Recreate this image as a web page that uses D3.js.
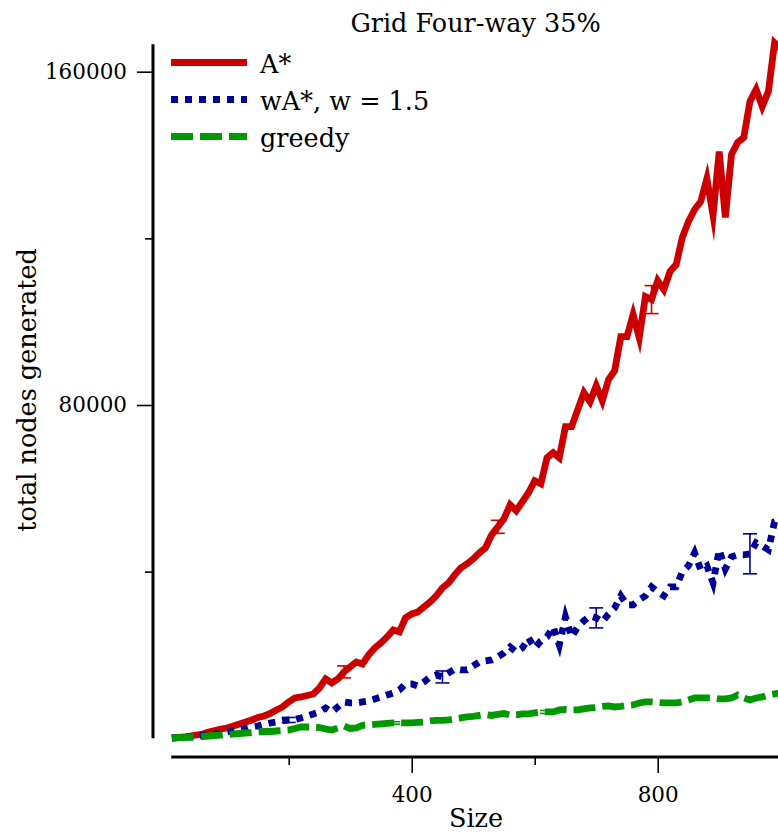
<!DOCTYPE html>
<html>
<head>
<meta charset="utf-8">
<script src="https://cdn.jsdelivr.net/npm/d3@7"></script>
<style>
  html, body { margin: 0; padding: 0; background: #fff; }
  svg { display: block; font-family: "DejaVu Serif", serif; }
</style>
</head>
<body>
<svg id="chart" width="778" height="833"></svg>
<script>
// Problem sizes (x axis)
const sizes = [10,20,30,40,50,60,70,80,90,100,110,120,130,140,150,160,170,180,190,200,
  210,220,230,240,250,260,270,280,290,300,310,320,330,340,350,360,370,380,390,400,
  410,420,430,440,450,460,470,480,490,500,510,520,530,540,550,560,570,580,590,600,
  610,620,630,640,650,660,670,680,690,700,710,720,730,740,750,760,770,780,790,800,
  810,820,830,840,850,860,870,880,890,900,910,920,930,940,950,960,970,980,990,1000];

// Mean total nodes generated per size
const aStar = [70,190,310,550,790,1030,1510,1870,2230,2470,2950,3440,3920,4400,5000,5360,5960,6800,7520,8720,
  9680,9920,10280,10640,12080,14250,13290,14250,15930,17130,18330,17850,20010,21690,22890,24340,26020,25540,28900,29860,
  30340,31540,32750,34190,36110,37310,39230,40910,41870,43070,44520,45720,48840,50760,52680,56050,54610,56770,58930,61810,
  61090,67340,68540,67340,74790,74790,78870,82950,80790,84640,81030,86080,88240,96410,96410,101690,96170,106020,105300,109860,
  107700,112020,113710,120190,124040,126920,128840,134370,125480,140850,125000,140130,143020,144210,152870,155750,151660,155270,166900,165500];

const wAstar = [70,190,310,310,430,670,790,1030,1150,1510,1750,1990,2350,2710,2950,3320,3680,3920,4160,4400,
  4520,4880,5360,5840,6320,7280,6320,7520,8720,8480,8480,8720,8960,9440,9920,10400,10880,11600,13040,13040,
  12560,13530,14730,15210,14730,15690,16650,16410,16410,17370,18330,18570,18810,19530,20490,21930,20730,21690,24090,21690,
  23370,24340,26740,22410,29140,24340,26740,28180,29380,28900,27940,29860,31300,34190,32030,32030,33230,34190,36350,35150,
  34190,36350,36350,39950,41390,44520,40430,41390,37310,45240,40670,43550,44040,44040,44280,46920,46200,45240,51960,52440];

const greedy = [70,190,190,310,310,430,550,670,790,910,1030,1150,1270,1390,1510,1630,1630,1750,1870,1990,
  2350,2710,2710,2710,2590,2230,1990,2470,2950,2350,2470,3080,3200,3320,3440,3560,3680,3680,3680,3680,
  3800,3920,4160,4280,4280,4400,4640,4880,5120,5240,5480,5720,5480,5720,5960,5600,5600,5840,5840,6080,
  6320,6320,6320,6800,6920,6800,6800,7040,7280,7400,7640,7760,7520,7640,7880,8000,8480,8720,8720,8600,
  8480,8480,8480,8720,9200,9680,9680,9680,9680,9440,9440,9680,10400,9680,9200,9680,9920,10400,10640,10880];

// Error bars: sizes and half-widths
const aStarErrSizes = [290, 540, 790];
const aStarErrHalf = [1440, 1560, 3360];
const wAstarErrSizes = [200, 450, 700, 950];
const wAstarErrHalf = [600, 1440, 2400, 4800];
const greedyErrSizes = [120, 370, 620, 870];
const greedyErrHalf = [240, 300, 360, 360];

// Axis ticks
const xMajorTicks = [400, 800];
const xMinorTicks = [200, 600, 1000];
const yMajorTicks = [80000, 160000];
const yMinorTicks = [40000, 120000];

const seriesNames = ["A*", "wA*, w = 1.5", "greedy"];
const titleText = "Grid Four-way 35%";
const xLabel = "Size";
const yLabel = "total nodes generated";

const svg = d3.select("#chart");

const x = d3.scaleLinear().domain([0, 1000]).range([165.7, 780.7]);
const y = d3.scaleLinear().domain([0, 160000]).range([738.3, 71.7]);

const series = [
  { name: seriesNames[0], values: aStar, color: "#cc0000", dash: null,
    errS: aStarErrSizes, errH: aStarErrHalf },
  { name: seriesNames[1], values: wAstar, color: "#000099", dash: "7 7",
    errS: wAstarErrSizes, errH: wAstarErrHalf },
  { name: seriesNames[2], values: greedy, color: "#009900", dash: "22 7",
    errS: greedyErrSizes, errH: greedyErrHalf }
];

// Axis spines
svg.append("line")
  .attr("x1", 153).attr("x2", 153)
  .attr("y1", y(0)).attr("y2", y(166600))
  .attr("stroke", "#000").attr("stroke-width", 3);
svg.append("line")
  .attr("x1", x(9)).attr("x2", x(1010))
  .attr("y1", 757).attr("y2", 757)
  .attr("stroke", "#000").attr("stroke-width", 3);

function styleAxis(g) {
  g.select(".domain").remove();
  g.selectAll(".tick line").attr("stroke", "#000").attr("stroke-width", 1.6);
  g.selectAll(".tick text").attr("fill", "#000")
    .style("font-family", "DejaVu Serif, serif").style("font-size", "21.5px");
}

svg.append("g").attr("transform", "translate(153,0)")
  .call(d3.axisLeft(y).tickValues(yMajorTicks).tickSize(16).tickPadding(10).tickFormat(d3.format("d")))
  .call(styleAxis);
svg.append("g").attr("transform", "translate(153,0)")
  .call(d3.axisLeft(y).tickValues(yMinorTicks).tickSize(8).tickFormat(""))
  .call(styleAxis);

svg.append("g").attr("transform", "translate(0,757)")
  .call(d3.axisBottom(x).tickValues(xMajorTicks).tickSize(16).tickPadding(14).tickFormat(d3.format("d")))
  .call(styleAxis);
svg.append("g").attr("transform", "translate(0,757)")
  .call(d3.axisBottom(x).tickValues(xMinorTicks).tickSize(8).tickFormat(""))
  .call(styleAxis);

// Series lines with error bars
const line = d3.line().x((d, i) => x(sizes[i])).y(d => y(d));

series.forEach(s => {
  const g = svg.append("g");
  g.append("path")
    .datum(s.values)
    .attr("d", line)
    .attr("fill", "none")
    .attr("stroke", s.color)
    .attr("stroke-width", 6.8)
    .attr("stroke-linejoin", "miter")
    .attr("stroke-miterlimit", 10)
    .attr("stroke-dasharray", s.dash);

  s.errS.forEach((sz, k) => {
    const idx = sizes.indexOf(sz);
    const v = s.values[idx];
    const h = s.errH[k];
    const cx = x(sz);
    const eb = g.append("g").attr("stroke", s.color).attr("stroke-width", 1.6);
    eb.append("line").attr("x1", cx).attr("x2", cx).attr("y1", y(v - h)).attr("y2", y(v + h));
    eb.append("line").attr("x1", cx - 7).attr("x2", cx + 7).attr("y1", y(v - h)).attr("y2", y(v - h));
    eb.append("line").attr("x1", cx - 7).attr("x2", cx + 7).attr("y1", y(v + h)).attr("y2", y(v + h));
  });
});

// Legend
const legend = svg.append("g");
series.forEach((s, i) => {
  const ly = 62.5 + i * 37;
  legend.append("line")
    .attr("x1", 171).attr("x2", 247)
    .attr("y1", ly).attr("y2", ly)
    .attr("stroke", s.color).attr("stroke-width", 6.8)
    .attr("stroke-dasharray", s.dash);
  legend.append("text")
    .attr("x", 260).attr("y", ly + 10.5)
    .attr("fill", "#000")
    .style("font-size", "25.5px")
    .text(s.name);
});

// Title and axis labels
svg.append("text")
  .attr("x", 475.5).attr("y", 32)
  .attr("text-anchor", "middle")
  .style("font-size", "25.5px")
  .text(titleText);

svg.append("text")
  .attr("x", 476).attr("y", 827)
  .attr("text-anchor", "middle")
  .style("font-size", "25.5px")
  .text(xLabel);

svg.append("text")
  .attr("transform", "translate(36,390) rotate(-90)")
  .attr("text-anchor", "middle")
  .style("font-size", "25.5px")
  .text(yLabel);
</script>
</body>
</html>
